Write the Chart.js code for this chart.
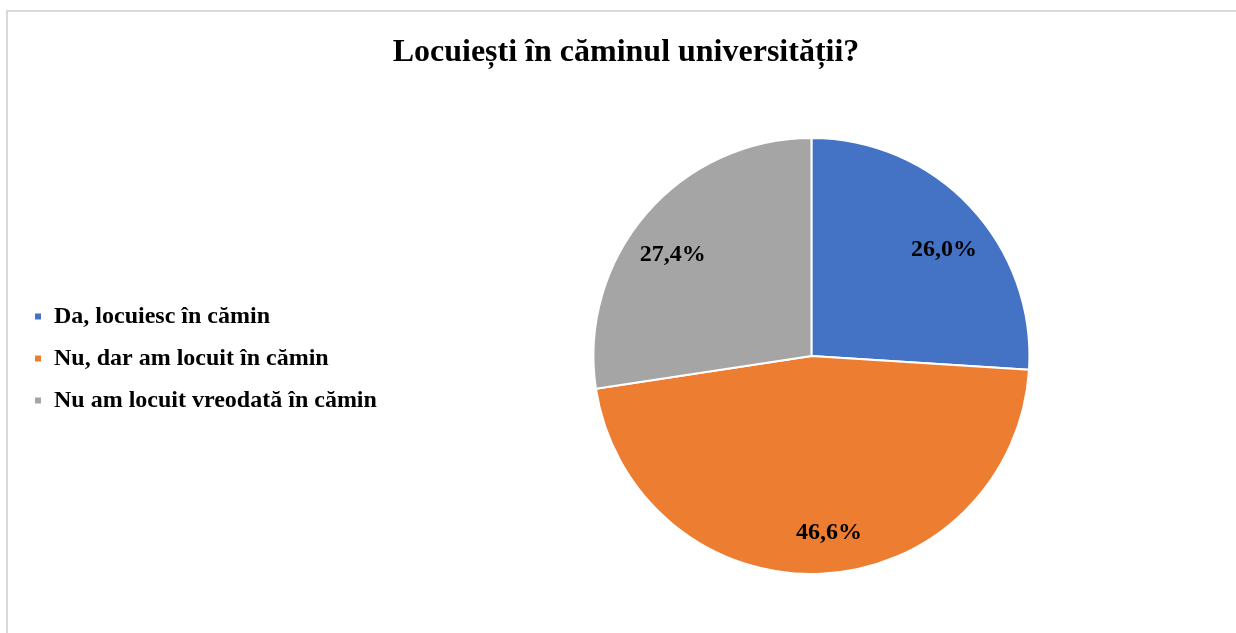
<!DOCTYPE html>
<html>
<head>
<meta charset="utf-8">
<script src="https://cdn.jsdelivr.net/npm/chart.js@4/dist/chart.umd.min.js"></script>
<style>
  html, body { margin: 0; padding: 0; background: #ffffff; }
  #wrap { position: relative; width: 1236px; height: 633px; overflow: hidden; }
  #frame { position: absolute; left: 6px; top: 10px; width: 1300px; height: 700px;
           border-top: 2px solid #d9d9d9; border-left: 2px solid #d9d9d9; }
  canvas { position: absolute; left: 0; top: 0; }
</style>
</head>
<body>
<div id="wrap">
  <div id="frame"></div>
  <canvas id="c" width="1236" height="633"></canvas>
</div>
<script>
const titleText = "Locuiești în căminul universității?";
const categories = ["Da, locuiesc în cămin", "Nu, dar am locuit în cămin", "Nu am locuit vreodată în cămin"];
const values = [26.0, 46.6, 27.4];
const colors = ["#4472C4", "#ED7D31", "#A5A5A5"];

const FONT = "'Liberation Serif', 'Times New Roman', serif";
Chart.defaults.font.family = FONT;
Chart.defaults.color = "#000000";

const pieLabels = {
  id: "pieLabels",
  afterDatasetsDraw(chart, args, opts) {
    const ctx = chart.ctx;
    const meta = chart.getDatasetMeta(0);
    const data = chart.data.datasets[0].data;
    const nudges = opts.nudges || [];
    ctx.save();
    ctx.font = "bold 24px " + FONT;
    ctx.fillStyle = "#000000";
    ctx.textAlign = "center";
    ctx.textBaseline = "alphabetic";
    meta.data.forEach((arc, i) => {
      const p = arc.getProps(["x", "y", "startAngle", "endAngle", "outerRadius"], true);
      const mid = (p.startAngle + p.endAngle) / 2;
      const r = p.outerRadius * 0.79;
      const n = nudges[i] || [0, 0];
      const tx = p.x + Math.cos(mid) * r + n[0];
      const ty = p.y + Math.sin(mid) * r + n[1];
      ctx.fillText(data[i].toFixed(1).replace(".", ",") + "%", tx, ty);
    });
    ctx.restore();
  }
};

new Chart(document.getElementById("c"), {
  type: "pie",
  data: {
    labels: categories,
    datasets: [{
      data: values,
      backgroundColor: colors,
      borderColor: "#ffffff",
      borderWidth: 2
    }]
  },
  options: {
    responsive: false,
    animation: false,
    layout: { padding: { left: 16, right: 0, top: 0, bottom: 58 } },
    plugins: {
      title: {
        display: true,
        text: titleText,
        font: { size: 32, weight: "bold", family: FONT },
        color: "#000000",
        padding: { top: 34, bottom: 64.6 }
      },
      legend: {
        display: true,
        position: "left",
        align: "center",
        maxWidth: 379,
        title: {
          display: true,
          text: "",
          font: { size: 1 },
          padding: { top: 141, bottom: 0 }
        },
        labels: {
          usePointStyle: true,
          pointStyle: "rect",
          boxWidth: 8,
          boxHeight: 8,
          padding: 18,
          color: "#000000",
          font: { size: 24, weight: "bold", family: FONT }
        }
      },
      pieLabels: { nudges: [[7, 18], [10, 11], [-8, 17]] },
      tooltip: { enabled: false }
    }
  },
  plugins: [pieLabels]
});
</script>
</body>
</html>
